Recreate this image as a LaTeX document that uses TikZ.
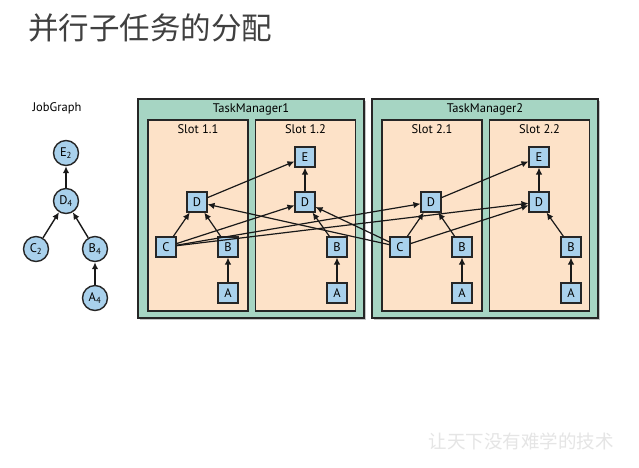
\documentclass[tikz,border=0pt]{standalone}
\usepackage{fontspec}
\setmainfont{PT Sans}
\newfontfamily\cjk{Noto Sans CJK SC}
\usetikzlibrary{shadows, arrows.meta, positioning}

\definecolor{tmgreen}{HTML}{A6D5C3}
\definecolor{slotpeach}{HTML}{FDE2C8}
\definecolor{taskblue}{HTML}{A9D1EC}

\tikzset{
  tm/.style={draw=black!85, line width=1.4pt, fill=tmgreen,
    drop shadow={shadow xshift=1.5pt, shadow yshift=-1.5pt, fill=black!45}},
  slot/.style={draw=black!85, line width=1.4pt, fill=slotpeach},
  task/.style={draw=black!85, line width=1.1pt, fill=taskblue, minimum size=20pt, inner sep=0pt,
    drop shadow={shadow xshift=1pt, shadow yshift=-1pt, fill=black!40}},
  jnode/.style={circle, draw=black!85, line width=1.4pt, fill=taskblue, minimum size=25pt, inner sep=0pt},
  flow/.style={-{Latex[length=7pt, width=6.5pt]}, line width=1.2pt, black!90},
}

\begin{document}
\begin{tikzpicture}[x=1pt, y=-1pt, font=\fontsize{12.5}{14}\selectfont]
\useasboundingbox[fill=white] (0,0) rectangle (639,467);
\node[text=black!75, font=\cjk\fontsize{30.5}{34}\selectfont] (title) at (150,28) {并行子任务的分配};

% job graph
\node[jnode] (jE) at (66,153) {E\textsubscript{2}};
\node (jg) at (57,108) {JobGraph};
\node[jnode] (jD) at (66,201) {D\textsubscript{4}};
\node[jnode] (jC) at (36,249) {C\textsubscript{2}};
\node[jnode] (jB) at (95,249) {B\textsubscript{4}};
\node[jnode] (jA) at (95,298) {A\textsubscript{4}};
\path[flow, line width=1.4pt]
  (jA) edge (jB)
  (jB) edge (jD)
  (jC) edge (jD)
  (jD) edge (jE);

% task managers with two slots each
\foreach \t/\dx in {1/0, 2/234} {
  \node[tm, minimum width=226, minimum height=219,
    label={[anchor=north, yshift=-2pt]north:TaskManager\t}] (tm\t) at (251+\dx,208.5) {};
  \node[slot, minimum width=100, minimum height=191,
    label={[anchor=north, yshift=-2pt]north:Slot \t.1}] (s\t1) at (198+\dx,215.5) {};
  \node[slot, minimum width=100, minimum height=191,
    label={[anchor=north, yshift=-2pt]north:Slot \t.2}] (s\t2) at (305.5+\dx,215.5) {};
  \node[task] (C\t)  at (166+\dx,247) {C};
  \node[task] (D\t1) at (197+\dx,202) {D};
  \node[task] (B\t1) at (228+\dx,247) {B};
  \node[task] (A\t1) at (228+\dx,293) {A};
  \node[task] (E\t)  at (305+\dx,157) {E};
  \node[task] (D\t2) at (305+\dx,202) {D};
  \node[task] (B\t2) at (337+\dx,247) {B};
  \node[task] (A\t2) at (337+\dx,293) {A};
  \path[flow]
    (A\t1) edge (B\t1)
    (B\t1) edge (D\t1)
    (A\t2) edge (B\t2)
    (B\t2) edge (D\t2)
    (D\t1) edge (E\t)
    (D\t2) edge (E\t);
}
% C sends to every D
\foreach \c in {1,2}
  \foreach \d in {11,12,21,22}
    \draw[flow] (C\c) -- (D\d);

\node[text=black!10, font=\cjk\fontsize{18.5}{20}\selectfont] (mark) at (521,441) {让天下没有难学的技术};
\end{tikzpicture}
\end{document}
